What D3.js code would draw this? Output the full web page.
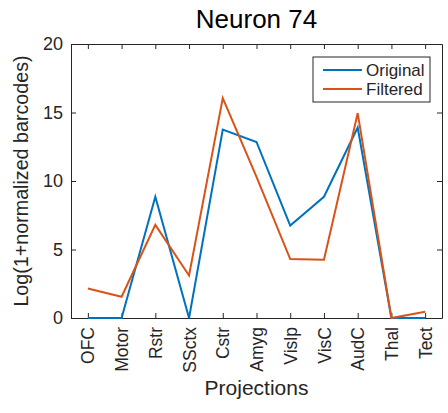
<!DOCTYPE html>
<html>
<head>
<meta charset="utf-8">
<script src="https://cdn.jsdelivr.net/npm/d3@7"></script>
<style>
  body { margin: 0; background: #fff; }
  text { font-family: "Liberation Sans", Arial, sans-serif; fill: #262626; }
</style>
</head>
<body>
<div id="chart"></div>
<script>
// chart data
var regions = ["OFC", "Motor", "Rstr", "SSctx", "Cstr", "Amyg", "Vislp", "VisC", "AudC", "Thal", "Tect"];
var original = [0, 0, 8.85, 0, 13.75, 12.85, 6.75, 8.85, 13.9, 0, 0];
var filtered = [2.15, 1.55, 6.8, 3.1, 16.05, 10.3, 4.3, 4.25, 14.95, 0, 0.45];
var yTicks = [0, 5, 10, 15, 20];

var svgWidth = 448;
var svgHeight = 413;
var margin = { top: 44, right: 6, bottom: 95, left: 71 };
var width = svgWidth - margin.left - margin.right;
var height = svgHeight - margin.top - margin.bottom;

var svg = d3.select("#chart")
  .append("svg")
  .attr("width", svgWidth)
  .attr("height", svgHeight);

var chartGroup = svg.append("g")
  .attr("transform", `translate(${margin.left}, ${margin.top})`);

var xScale = d3.scaleLinear()
  .domain([0.5, regions.length + 0.5])
  .range([0, width]);

var yScale = d3.scaleLinear()
  .domain([0, 20])
  .range([height, 0]);

var idx = regions.map((d, i) => i + 1);

// axes, MATLAB style: ticks inside, box on
var bottomAxis = d3.axisBottom(xScale).tickValues(idx).tickSize(-5).tickSizeOuter(0)
  .tickFormat(d => regions[d - 1]);
var topAxis = d3.axisTop(xScale).tickValues(idx).tickSize(-5).tickSizeOuter(0).tickFormat("");
var leftAxis = d3.axisLeft(yScale).tickValues(yTicks).tickSize(-5).tickSizeOuter(0);
var rightAxis = d3.axisRight(yScale).tickValues(yTicks).tickSize(-5).tickSizeOuter(0).tickFormat("");

var xAxis = chartGroup.append("g")
  .attr("transform", `translate(0, ${height})`)
  .call(bottomAxis);
xAxis.selectAll("text")
  .attr("transform", "rotate(-90)")
  .attr("text-anchor", "end")
  .attr("x", -9)
  .attr("y", 0)
  .attr("dy", "0.35em")
  .style("font-size", "17.5px");

chartGroup.append("g").call(topAxis);
var yAxis = chartGroup.append("g").call(leftAxis);
yAxis.selectAll("text").attr("x", -8).style("font-size", "18px");
chartGroup.append("g").attr("transform", `translate(${width}, 0)`).call(rightAxis);

chartGroup.selectAll(".domain").attr("stroke", "#262626");
chartGroup.selectAll(".tick line").attr("stroke", "#262626");

// lines
var line = d3.line()
  .x((d, i) => xScale(i + 1))
  .y(d => yScale(d));

var series = [
  { name: "Original", values: original, color: "#0072BD" },
  { name: "Filtered", values: filtered, color: "#D95319" }
];

series.forEach(function(s) {
  chartGroup.append("path")
    .datum(s.values)
    .attr("fill", "none")
    .attr("stroke", s.color)
    .attr("stroke-width", 2)
    .attr("d", line);
});

// legend
var legend = chartGroup.append("g")
  .attr("transform", `translate(${width - 129}, 13)`);
legend.append("rect")
  .attr("width", 117)
  .attr("height", 45)
  .attr("fill", "#fff")
  .attr("stroke", "#262626")
  .attr("stroke-width", 1);
series.forEach(function(s, i) {
  var y = 13 + i * 19;
  legend.append("line")
    .attr("x1", 10).attr("x2", 49)
    .attr("y1", y).attr("y2", y)
    .attr("stroke", s.color)
    .attr("stroke-width", 2);
  legend.append("text")
    .attr("x", 53)
    .attr("y", y)
    .attr("dy", "0.35em")
    .style("font-size", "17px")
    .text(s.name);
});

// title and labels
svg.append("text")
  .attr("x", margin.left + width / 2)
  .attr("y", 28)
  .attr("text-anchor", "middle")
  .style("font-size", "26px")
  .style("fill", "#000")
  .text("Neuron 74");

svg.append("text")
  .attr("x", margin.left + width / 2)
  .attr("y", 395)
  .attr("text-anchor", "middle")
  .style("font-size", "21px")
  .text("Projections");

svg.append("text")
  .attr("transform", `translate(28, ${margin.top + height / 2}) rotate(-90)`)
  .attr("text-anchor", "middle")
  .style("font-size", "19.7px")
  .text("Log(1+normalized barcodes)");
</script>
</body>
</html>
